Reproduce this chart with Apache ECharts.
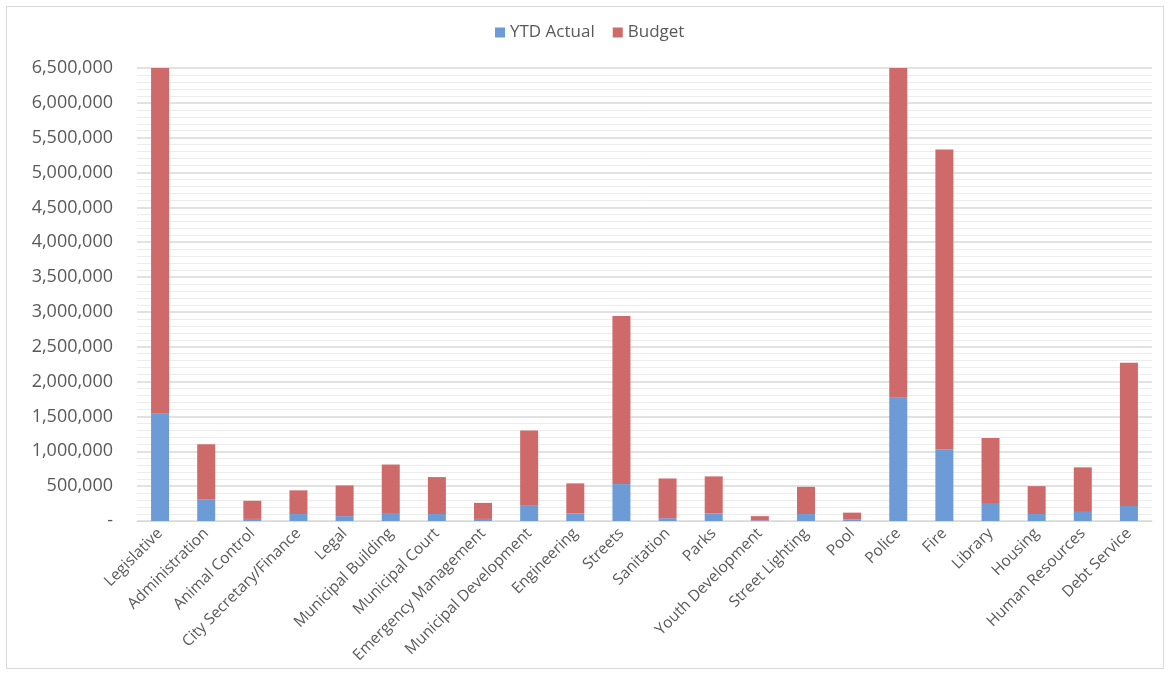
<!DOCTYPE html>
<html>
<head>
<meta charset="utf-8">
<script src="https://cdn.jsdelivr.net/npm/echarts@6/dist/echarts.min.js"></script>
<style>
  html, body { margin: 0; padding: 0; background: #ffffff; }
  #frame {
    position: absolute; left: 6px; top: 6px; width: 1158px; height: 663px;
    border: 1px solid #d9d9d9; box-sizing: border-box;
  }
  #chart { position: absolute; left: 0; top: 0; width: 1171px; height: 677px; }
</style>
</head>
<body>
<div id="frame"></div>
<div id="chart"></div>
<script>
// Departments on the category axis
const departments = [
  'Legislative', 'Administration', 'Animal Control', 'City Secretary/Finance',
  'Legal', 'Municipal Building', 'Municipal Court', 'Emergency Management',
  'Municipal Development', 'Engineering', 'Streets', 'Sanitation', 'Parks',
  'Youth Development', 'Street Lighting', 'Pool', 'Police', 'Fire', 'Library',
  'Housing', 'Human Resources', 'Debt Service'
];

// Year-to-date spending per department
const ytdActual = [
  1540000, 310000, 30000, 100000, 70000, 115000, 100000, 30000,
  220000, 110000, 530000, 40000, 110000, 10000, 100000, 20000,
  1770000, 1030000, 260000, 100000, 130000, 215000
];

// Budget, stacked on top of the actual amount
const budget = [
  4960000, 790000, 260000, 340000, 440000, 695000, 530000, 230000,
  1080000, 430000, 2410000, 570000, 530000, 60000, 390000, 100000,
  4730000, 4300000, 930000, 400000, 640000, 2055000
];

// Value axis range and step
const axisMax = 6500000;
const axisStep = 500000;

const FONT = '"Open Sans", "Liberation Sans", sans-serif';
const TEXT = '#595959';

const chart = echarts.init(document.getElementById('chart'));
chart.setOption({
  backgroundColor: 'transparent',
  animation: false,
  legend: {
    top: 19,
    left: 490,
    itemWidth: 10,
    itemHeight: 10,
    itemGap: 18,
    icon: 'rect',
    textStyle: { color: TEXT, fontFamily: FONT, fontSize: 17 },
    data: ['YTD Actual', 'Budget']
  },
  grid: { left: 137, right: 19, top: 68, bottom: 156, containLabel: false },
  xAxis: {
    type: 'category',
    data: departments,
    axisTick: { show: false },
    axisLine: { lineStyle: { color: '#d9d9d9', width: 1 } },
    axisLabel: {
      rotate: 45,
      interval: 0,
      margin: 10,
      color: TEXT,
      fontFamily: FONT,
      fontSize: 15.5
    }
  },
  yAxis: {
    type: 'value',
    min: 0,
    max: axisMax,
    interval: axisStep,
    axisLine: { show: false },
    axisTick: { show: false },
    axisLabel: {
      margin: 24,
      color: TEXT,
      fontFamily: FONT,
      fontSize: 18,
      formatter: v => v === 0 ? '-' : v.toLocaleString('en-US')
    },
    splitLine: { lineStyle: { color: '#d9d9d9', width: 1.5 } },
    minorTick: { show: false, splitNumber: 5 },
    minorSplitLine: { show: true, lineStyle: { color: '#ececec', width: 1 } }
  },
  series: [
    {
      name: 'YTD Actual',
      type: 'bar',
      stack: 'total',
      barWidth: 18,
      itemStyle: { color: '#6c9bd5' },
      data: ytdActual
    },
    {
      name: 'Budget',
      type: 'bar',
      stack: 'total',
      barWidth: 18,
      itemStyle: { color: '#cf6a6a' },
      data: budget
    }
  ]
});
</script>
</body>
</html>
